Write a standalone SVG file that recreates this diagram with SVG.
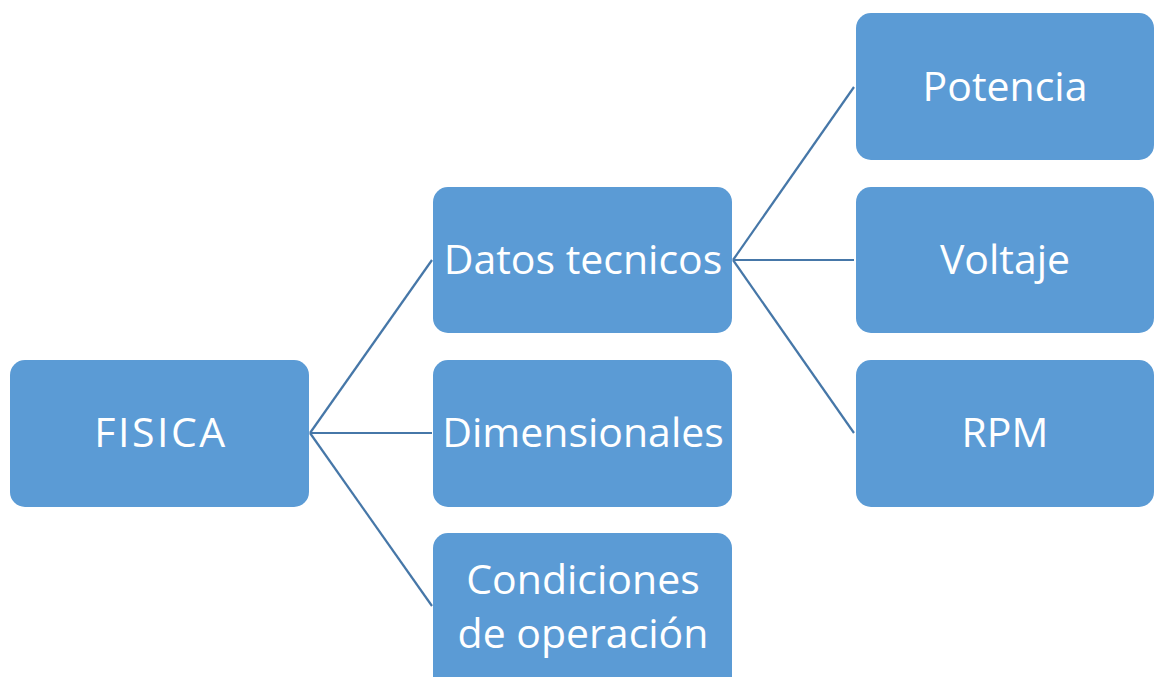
<svg xmlns="http://www.w3.org/2000/svg" width="1154" height="677" viewBox="0 0 1154 677">
<style>
.box{fill:#5B9BD5;}
.lbl{font-family:"Open Sans","Liberation Sans",sans-serif;font-size:41px;fill:#FFFFFF;text-anchor:middle;}
.con{stroke:#4677A8;stroke-width:2.2;fill:none;}
</style>
<rect width="1154" height="677" fill="#FFFFFF"/>
<g id="connectors">
<line class="con" x1="310" y1="433" x2="432" y2="260"/>
<line class="con" x1="310" y1="433" x2="432" y2="433"/>
<line class="con" x1="310" y1="433" x2="432" y2="606"/>
<line class="con" x1="733" y1="260" x2="854" y2="87"/>
<line class="con" x1="733" y1="260" x2="854" y2="260"/>
<line class="con" x1="733" y1="260" x2="854" y2="433"/>
</g>
<g id="fisica">
<rect class="box" x="10" y="360" width="299" height="147" rx="15"/>
<text class="lbl" x="161" y="447" style="letter-spacing:2.5px">FISICA</text>
</g>
<g id="datos">
<rect class="box" x="433" y="187" width="299" height="146" rx="15"/>
<text class="lbl" x="583" y="274">Datos tecnicos</text>
</g>
<g id="dimensionales">
<rect class="box" x="433" y="360" width="299" height="147" rx="15"/>
<text class="lbl" x="583" y="447">Dimensionales</text>
</g>
<g id="condiciones">
<rect class="box" x="433" y="533" width="299" height="160" rx="15"/>
<text class="lbl" x="583" y="594">Condiciones</text>
<text class="lbl" x="583" y="648">de operación</text>
</g>
<g id="potencia">
<rect class="box" x="856" y="13" width="298" height="147" rx="15"/>
<text class="lbl" x="1005" y="101">Potencia</text>
</g>
<g id="voltaje">
<rect class="box" x="856" y="187" width="298" height="146" rx="15"/>
<text class="lbl" x="1005" y="274">Voltaje</text>
</g>
<g id="rpm">
<rect class="box" x="856" y="360" width="298" height="147" rx="15"/>
<text class="lbl" x="1005" y="447">RPM</text>
</g>
</svg>
